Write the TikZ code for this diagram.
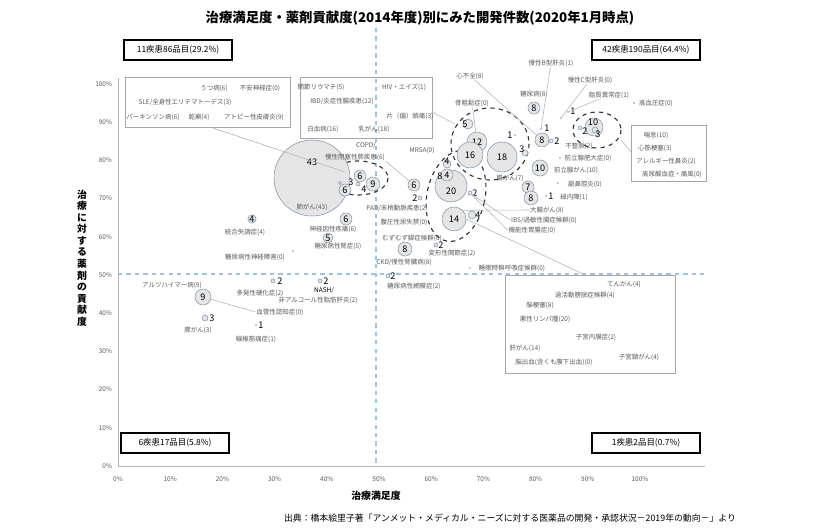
\documentclass[tikz,border=0pt]{standalone}
\usepackage{fontspec}
\setmainfont{Noto Sans CJK JP}
\usetikzlibrary{positioning}
\definecolor{lblgray}{HTML}{595959}
\definecolor{bubedge}{HTML}{8497B0}
\definecolor{guide}{HTML}{9DC3E6}
\tikzset{
  lbl/.style={text=lblgray, font=\fontsize{4.6}{5.5}\selectfont, inner sep=0.5pt},
  num/.style={font=\fontsize{6.5}{7}\selectfont, inner sep=0pt},
  bub/.style={circle, draw=bubedge, fill=gray!20, inner sep=0pt, minimum size=#1*0.05cm, font=\fontsize{6.5}{7}\selectfont},
  dotm/.style={circle, fill=bubedge, inner sep=0pt, minimum size=0.04cm},
  quad/.style={draw=black, thick, minimum width=2.7cm, minimum height=0.5cm, font=\fontsize{6}{7}\selectfont},
  grpbox/.style={draw=gray!70, thin},
  lead/.style={gray!60, thin},
  grp/.style={dashed, thick, black!80}
}
\begin{document}
\begin{tikzpicture}[x=0.025cm, y=-0.025cm]
\useasboundingbox (0,0) rectangle (840,530);
% title and axes
\node (title) at (420,18) {\fontsize{9.5}{11}\selectfont\bfseries 治療満足度・薬剤貢献度(2014年度)別にみた開発件数(2020年1月時点)};
\draw[gray!60] (118,78) -- (118,466) -- (705,466);
\foreach \i in {0,...,10} {
  \node[lbl, anchor=east] (yt\i) at (113,466-38.2*\i) {\pgfmathparse{int(10*\i)}\pgfmathresult\%};
  \node[lbl, anchor=north] (xt\i) at (118+52.2*\i,476) {\pgfmathparse{int(10*\i)}\pgfmathresult\%};
}
\draw[guide, dashed, thick] (376,28) -- (376,466);
\draw[guide, dashed, thick] (118,274) -- (705,274);
\node[align=center, font=\fontsize{7}{8.2}\selectfont\bfseries] (ylab) at (82,258) {治\\療\\に\\対\\す\\る\\薬\\剤\\の\\貢\\献\\度};
\node[font=\fontsize{7}{8}\selectfont\bfseries] (xlab) at (376,496) {治療満足度};
\node[font=\fontsize{6.3}{7}\selectfont] (src) at (510,518) {出典：橋本絵里子著「アンメット・メディカル・ニーズに対する医薬品の開発・承認状況－2019年の動向－」より};
% quadrant boxes
\node[quad] (qTL) at (178,50) {11疾患86品目(29.2\%)};
\node[quad] (qTR) at (646,50) {42疾患190品目(64.4\%)};
\node[quad] (qBL) at (175,443) {6疾患17品目(5.8\%)};
\node[quad] (qBR) at (646,443) {1疾患2品目(0.7\%)};

% group boxes
\draw[grpbox] (125,77) rectangle (290,127);
\node[lbl] (utsu) at (214,88) {うつ病(6)};
\node[lbl] (fuan) at (260,88) {不安神経症(0)};
\node[lbl] (sle) at (185,102) {SLE/全身性エリテマトーデス(3)};
\node[lbl] (park) at (153,117) {パーキンソン病(6)};
\node[lbl] (kansen) at (199,117) {乾癬(4)};
\node[lbl] (atopy) at (254,117) {アトピー性皮膚炎(9)};
\draw[grpbox] (300,77) rectangle (432,138);
\node[lbl] (ra) at (321,87) {関節リウマチ(5)};
\node[lbl] (hiv) at (404,87) {HIV・エイズ(1)};
\node[lbl] (ibd) at (342,101) {IBD/炎症性腸疾患(12)};
\node[lbl] (migr) at (410,116) {片（偏）頭痛(3)};
\node[lbl] (leuk) at (323,129) {白血病(16)};
\node[lbl] (breast) at (374,129) {乳がん(18)};
\draw[grpbox] (631,125) rectangle (706,181);
\node[lbl] (asth) at (656,135) {喘息(10)};
\node[lbl] (mi) at (655,148) {心筋梗塞(3)};
\node[lbl] (aller) at (666,161) {アレルギー性鼻炎(2)};
\node[lbl] (gout) at (672,174) {高尿酸血症・痛風(0)};
\draw[grpbox] (505,275) rectangle (675,373);
\node[lbl] (epil) at (624,284) {てんかん(4)};
\node[lbl] (oab) at (585,295) {過活動膀胱症候群(4)};
\node[lbl] (infarct) at (540,305) {脳梗塞(8)};
\node[lbl] (lymph) at (545,319) {悪性リンパ腫(20)};
\node[lbl] (endo) at (596,337) {子宮内膜症(2)};
\node[lbl] (liver) at (525,348) {肝がん(14)};
\node[lbl] (cervix) at (639,357) {子宮頸がん(4)};
\node[lbl] (hemo) at (554,362) {脳出血(含くも膜下出血)(0)};

% dashed groups
\draw[grp] (358,178) ellipse (30 and 17);
\draw[grp] (490,144) ellipse (39 and 36);
\draw[grp, rotate around={-12:(456,196)}] (456,196) ellipse (29 and 46);
\draw[grp] (597,130) ellipse (24 and 18);

% upper left quadrant
\node[bub=38] (b43) at (312,178) {};
\node[num] (n43) at (312,162) {43};
\node[lbl] (lung) at (312,207) {肺がん(43)};
\node[bub=6] (b6a) at (360,176) {6};
\node[bub=7] (b9a) at (373,184) {9};
\node[bub=2] (b4a) at (358,184) {};
\node[num] (n4a) at (364,189) {4};
\node[num] (n3a) at (351,182) {3};
\node[bub=6] (b6b) at (345,190) {6};
\node[bub=1.5] (b1a) at (340,183) {};
\node[bub=4] (b4b) at (252,219) {4};
\node[lbl] (schizo) at (245,232) {統合失調症(4)};
\node[bub=6] (b6c) at (346,219) {6};
\node[lbl] (neuro) at (333,229) {神経因性疼痛(6)};
\node[bub=5] (b5a) at (328,238) {5};
\node[lbl] (dneph) at (338,246) {糖尿病性腎症(5)};
\node[dotm] (d0a) at (293,251) {};
\node[lbl] (dneur) at (255,257) {糖尿病性神経障害(0)};
\node[lbl] (copd1) at (366,146) {COPD/};
\node[lbl] (copd) at (355,157) {慢性閉塞性肺疾患(6)};
\node[bub=6] (b6d) at (414,185) {6};
\node[lbl] (mrsa) at (422,150) {MRSA(0)};

% upper right quadrant
\node[bub=2] (b2a) at (420,198) {};
\node[num] (n2a) at (415,198) {2};
\node[lbl] (pad) at (397,208) {PAD/末梢動脈疾患(2)};
\node[lbl] (sui) at (404,222) {腹圧性尿失禁(0)};
\node[lbl] (rls) at (412,238) {むずむず脚症候群(0)};
\node[bub=7] (b8a) at (405,249) {8};
\node[lbl] (ckd) at (404,262) {CKD/慢性腎臓病(8)};
\node[bub=2] (b2b) at (436,245) {};
\node[num] (n2b) at (441,245) {2};
\node[lbl] (oa) at (452,253) {変形性関節症(2)};
\node[dotm] (d0b) at (470,268) {};
\node[lbl] (sas) at (512,268) {睡眠時無呼吸症候群(0)};
\node[bub=16] (b20) at (451,186) {};
\node[num] (n20) at (451,191) {20};
\node[bub=6] (b4c) at (447,175) {4};
\node[num] (n8c) at (440,176) {8};
\node[bub=4] (b4d) at (447,164) {};
\node[num] (n4d) at (447,161) {4};
\node[bub=2] (b2c) at (470,193) {};
\node[num] (n2c) at (475,193) {2};
\node[bub=12] (b14) at (454,219) {14};
\node[bub=4] (b4e) at (472,215) {};
\node[num] (n4e) at (478,215) {4};
\node[bub=5] (b5b) at (468,124) {};
\node[num] (n5b) at (465,124) {5};
\node[bub=10] (b12) at (477,142) {12};
\node[bub=13] (b16) at (470,155) {16};
\node[bub=15] (b18) at (502,157) {18};
\node[dotm] (d1b) at (515,135) {};
\node[num] (n1b) at (510,135) {1};
\node[bub=3] (b3b) at (525,153) {};
\node[num] (n3b) at (522,149) {3};
\node[lbl] (osteo) at (472,103) {骨粗鬆症(0)};
\node[lbl] (hf) at (470,76) {心不全(8)};
\node[bub=7] (b8b) at (542,140) {8};
\node[bub=2] (b2d) at (551,141) {};
\node[num] (n2d) at (557,141) {2};
\node[lbl] (dm) at (534,94) {糖尿病(8)};
\node[bub=6] (b8d) at (534,108) {8};
\node[lbl] (hepb) at (551,63) {慢性B型肝炎(1)};
\node[dotm] (d1c) at (541,129) {};
\node[num] (n1c) at (547,128) {1};
\node[lbl] (hepc) at (590,80) {慢性C型肝炎(0)};
\node[dotm] (d0c) at (561,118) {};
\node[lbl] (lipid) at (609,95) {脂質異常症(1)};
\node[dotm] (d1d) at (568,112) {};
\node[num] (n1d) at (573,111) {1};
\node[dotm] (d0d) at (634,103) {};
\node[lbl] (htn) at (656,103) {高血圧症(0)};
\node[bub=9] (b10a) at (594,127) {};
\node[num] (n10a) at (593,122) {10};
\node[bub=3] (b3c) at (595,130) {};
\node[num] (n3c) at (598,134) {3};
\node[bub=2] (b2e) at (580,128) {};
\node[num] (n2e) at (585,131) {2};
\node[lbl] (arrh) at (579,146) {不整脈(2)};
\node[dotm] (d0e) at (560,158) {};
\node[lbl] (bph) at (588,158) {前立腺肥大症(0)};
\node[bub=8] (b10b) at (540,168) {10};
\node[lbl] (prost) at (576,170) {前立腺がん(10)};
\node[lbl] (colon7) at (510,178) {腸がん(7)};
\node[dotm] (d0f) at (558,183) {};
\node[lbl] (sinus) at (585,184) {副鼻腔炎(0)};
\node[bub=6] (b7a) at (528,187) {7};
\node[bub=7] (b8e) at (531,198) {8};
\node[dotm] (d1e) at (546,196) {};
\node[num] (n1e) at (551,196) {1};
\node[lbl] (glauc) at (574,197) {緑内障(1)};
\node[lbl] (crc) at (547,210) {大腸がん(8)};
\node[lbl] (ibs) at (544,220) {IBS/過敏性腸症候群(0)};
\node[lbl] (fd) at (532,230) {機能性胃腸症(0)};

% lower left quadrant
\node[lbl] (alz) at (172,285) {アルツハイマー病(9)};
\node[bub=8] (b9b) at (203,297) {9};
\node[lbl] (vasc) at (280,312) {血管性認知症(0)};
\node[bub=2] (b2f) at (273,281) {};
\node[num] (n2f) at (280,281) {2};
\node[lbl] (ms) at (260,293) {多発性硬化症(2)};
\node[bub=2] (b2g) at (320,281) {};
\node[num] (n2g) at (326,281) {2};
\node[lbl, text=black] (nash1) at (324,291) {NASH/};
\node[lbl] (nash) at (318,300) {非アルコール性脂肪肝炎(2)};
\node[bub=3] (b3d) at (205,318) {};
\node[num] (n3d) at (212,318) {3};
\node[lbl] (panc) at (198,330) {膵がん(3)};
\node[dotm] (d1f) at (256,325) {};
\node[num] (n1f) at (261,325) {1};
\node[lbl] (fibro) at (256,339) {線維筋痛症(1)};
\node[bub=2] (b2h) at (388,276) {};
\node[num] (n2h) at (393,276) {2};
\node[lbl] (dret) at (414,286) {糖尿病性網膜症(2)};

% leader lines
\draw[lead] (210,127) -- (345,172);
\draw[lead] (432,112) -- (455,124);
\draw[lead] (copd.south east) -- (b6d);
\draw[lead] (hf) -- (b8b);
\draw[lead] (osteo) -- (b12);
\draw[lead] (hepb) -- (d1c);
\draw[lead] (hepc) -- (d0c);
\draw[lead] (lipid) -- (d1d);
\draw[lead] (621,140) -- (631,152);
\draw[lead] (b2c) -- (ibs.west);
\draw[lead] (b2c) -- (fd.west);
\draw[lead] (b14.north east) -- (crc.west);
\draw[lead] (b14.east) -- (585,275);
\draw[lead] (b9b) -- (vasc.west);
\end{tikzpicture}
\end{document}
